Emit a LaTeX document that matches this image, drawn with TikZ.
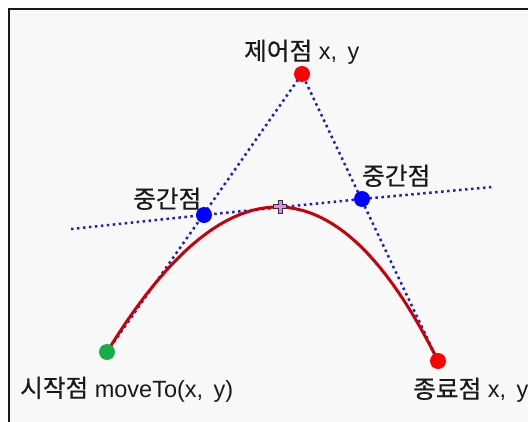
\documentclass[tikz,border=0pt]{standalone}
\usepackage{fontspec}
\setmainfont{Liberation Sans}
\newfontfamily\kr[Scale=1.05, FakeBold=0.5]{Noto Sans CJK KR}
\definecolor{guideblue}{RGB}{30,30,200}
\definecolor{curvered}{RGB}{200,0,10}
\definecolor{dotgreen}{RGB}{20,175,75}
\definecolor{bgray}{RGB}{248,248,248}
\definecolor{pluspink}{RGB}{240,130,240}
\begin{document}
\begin{tikzpicture}[x=1pt,y=-1pt,
  dot/.style={circle, inner sep=0pt, minimum size=16pt},
  guide/.style={guideblue, line width=2.5pt, dash pattern=on 2.5pt off 3.5pt},
  curveline/.style={curvered, line width=3pt},
  lbl/.style={inner sep=0pt, text=black!90, font=\fontsize{23.5}{28}\selectfont},
  plusmark/.style={fill=pluspink, draw=black!80, line width=1pt}]
\useasboundingbox (0,0) rectangle (528,422);
\clip (0,0) rectangle (528,422);
\fill[white] (0,0) rectangle (528,422);
\fill[bgray] (9,9) rectangle (540,440);
\draw[black!90, line width=2.5pt] (9,440) -- (9,9) -- (540,9);
% points
\coordinate (gl) at (71,229);
\coordinate (gr) at (492,187);
\coordinate (c1) at (227.3,155.7);
\coordinate (c2) at (337.7,158.7);
\coordinate (pl) at (280,207);
\node[dot] (start) at (107,352) {};
\node[dot] (ctrl) at (302,74) {};
\node[dot] (end) at (438,361) {};
\node[dot] (m1) at (204,215) {};
\node[dot] (m2) at (362,199) {};
% guides
\draw[guide] (start.center) -- (ctrl.center) -- (end.center);
\draw[guide] (gl) -- (m1.center) -- (m2.center) -- (gr);
% curve
\draw[curveline] (start.center) .. controls (c1) and (c2) .. (end.center);
% plus
\draw[plusmark, shift={(pl)}] (-6.5,-2) -- (-2,-2) -- (-2,-6.5) -- (2,-6.5) -- (2,-2) -- (6.5,-2) -- (6.5,2) -- (2,2) -- (2,6.5) -- (-2,6.5) -- (-2,2) -- (-6.5,2) -- cycle;
% dots
\fill[dotgreen] (start) circle (8);
\fill[red] (ctrl) circle (8);
\fill[red] (end) circle (8);
\fill[blue] (m1) circle (8);
\fill[blue] (m2) circle (8);
% labels
\node[lbl, anchor=base west] (tctrl) at (244,60) {{\kr 제어점} x,\, y};
\node[lbl, anchor=base west] (tm1) at (133,208) {\kr 중간점};
\node[lbl, anchor=base west] (tm2) at (362,185) {\kr 중간점};
\node[lbl, anchor=base west] (tstart) at (20,397) {{\kr 시작점} moveTo(x,\, y)};
\node[lbl, anchor=base west] (tend) at (413,398) {{\kr 종료점} x,\, y};
\end{tikzpicture}
\end{document}
